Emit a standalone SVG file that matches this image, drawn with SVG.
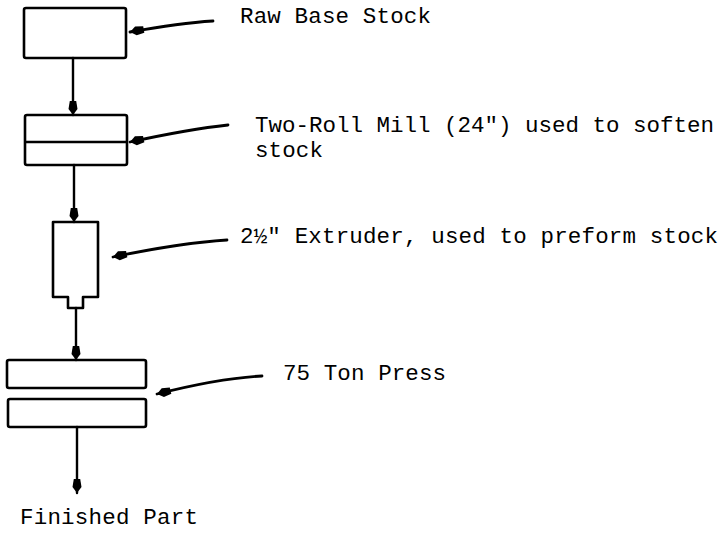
<svg xmlns="http://www.w3.org/2000/svg" width="722" height="534" viewBox="0 0 722 534">
  <defs>
    <marker id="ah" markerUnits="userSpaceOnUse" markerWidth="18" markerHeight="14" viewBox="-16 -7 18 14" refX="0" refY="0" orient="auto">
      <path d="M0,0 L-6,-4.5 L-14,-3.2 L-14,3.2 L-6,4.5 Z" fill="#000"/>
    </marker>
  </defs>
  <style>
    .shape { fill: #fff; stroke: #000; stroke-width: 2.6; stroke-linejoin: round; }
    .conn { fill: none; stroke: #000; stroke-width: 2.4; stroke-linecap: round; marker-end: url(#ah); }
    .ptr { fill: none; stroke: #000; stroke-width: 2.8; stroke-linecap: round; marker-end: url(#ah); }
    .lbl { font-family: "Liberation Mono", "Courier New", monospace; font-size: 22.5px; fill: #000; }
  </style>
  <rect width="722" height="534" fill="#fff"/>

  <g id="raw-base-stock">
    <rect class="shape" x="24" y="8" width="102" height="50" rx="2"/>
  </g>
  <g id="two-roll-mill">
    <rect class="shape" x="25" y="115" width="102" height="50" rx="2"/>
    <line x1="25" y1="142" x2="127" y2="142" stroke="#000" stroke-width="2.6"/>
  </g>
  <g id="extruder">
    <path class="shape" d="M53,222 H98 V297 H83 V308 H68 V297 H53 Z"/>
  </g>
  <g id="press">
    <rect class="shape" x="7" y="360" width="139" height="28" rx="2"/>
    <rect class="shape" x="8" y="399" width="138" height="28" rx="2"/>
  </g>

  <g id="connectors">
    <line class="conn" x1="73" y1="58" x2="73" y2="115"/>
    <line class="conn" x1="74" y1="165" x2="74" y2="222"/>
    <line class="conn" x1="76" y1="308" x2="76" y2="360"/>
    <line class="conn" x1="77" y1="427" x2="77" y2="493"/>
    <path class="ptr" d="M213,21 Q180,23 130,32"/>
    <path class="ptr" d="M228,125 Q190,129 130,142"/>
    <path class="ptr" d="M227,240 Q180,243 113,257"/>
    <path class="ptr" d="M262,376 Q220,378 157,394"/>
  </g>

  <g id="labels">
    <text class="lbl" x="240" y="23" textLength="191" lengthAdjust="spacing">Raw Base Stock</text>
    <text class="lbl" x="255" y="132" textLength="459" lengthAdjust="spacing">Two-Roll Mill (24") used to soften</text>
    <text class="lbl" x="255" y="157" textLength="68" lengthAdjust="spacing">stock</text>
    <text class="lbl" x="240" y="243" textLength="478" lengthAdjust="spacing">2½" Extruder, used to preform stock</text>
    <text class="lbl" x="283" y="380" textLength="163" lengthAdjust="spacing">75 Ton Press</text>
    <text class="lbl" x="20" y="524" textLength="178" lengthAdjust="spacing">Finished Part</text>
  </g>
</svg>
